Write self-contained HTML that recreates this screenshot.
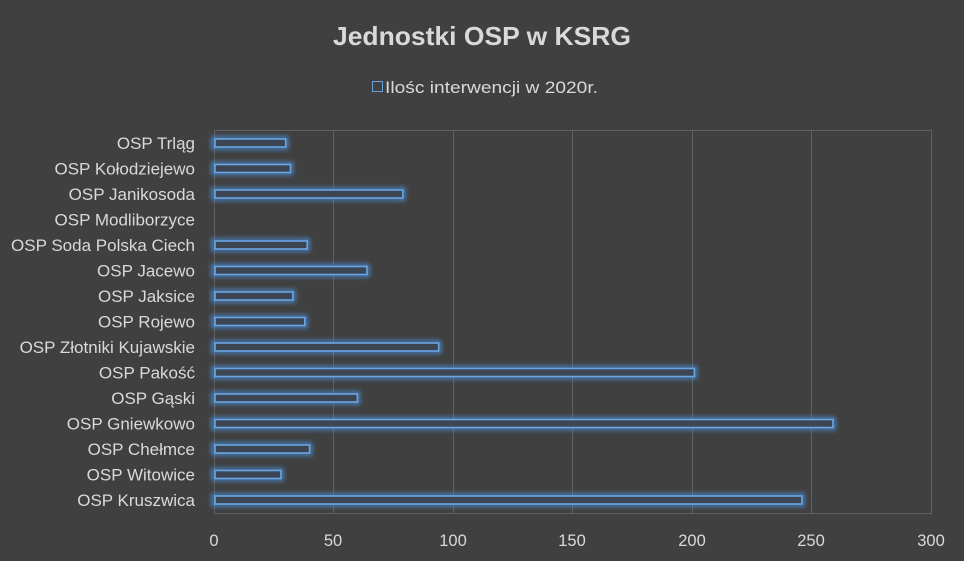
<!DOCTYPE html>
<html><head><meta charset="utf-8"><style>
html,body{margin:0;padding:0;background:#404040;}
svg{display:block;font-family:"Liberation Sans",sans-serif;}
</style></head><body>
<svg width="964" height="561" viewBox="0 0 964 561">
<defs><filter id="g" x="-10%" y="-100%" width="120%" height="300%"><feGaussianBlur stdDeviation="2.5"/></filter></defs>
<rect width="964" height="561" fill="#404040"/>
<text x="482" y="45" text-anchor="middle" font-size="26" font-weight="bold" fill="#d9d9d9" textLength="298" lengthAdjust="spacingAndGlyphs">Jednostki OSP w KSRG</text>
<rect x="372.5" y="81.5" width="10" height="10" fill="none" stroke="#6a9fd8" stroke-width="1"/>
<text x="385" y="93" font-size="17" fill="#d9d9d9" textLength="213" lengthAdjust="spacingAndGlyphs">Ilośc interwencji w 2020r.</text>
<g stroke="#606060" stroke-width="1">
<line x1="333.5" y1="130" x2="333.5" y2="514"/><line x1="453.5" y1="130" x2="453.5" y2="514"/>
<line x1="572.5" y1="130" x2="572.5" y2="514"/><line x1="692.5" y1="130" x2="692.5" y2="514"/>
<line x1="811.5" y1="130" x2="811.5" y2="514"/><line x1="931.5" y1="130" x2="931.5" y2="514"/>
<line x1="214.5" y1="130" x2="214.5" y2="514"/><line x1="214" y1="130.5" x2="931" y2="130.5"/>
<line x1="214" y1="513.5" x2="931" y2="513.5"/>
</g>
<g font-size="16.5" fill="#d9d9d9" text-anchor="middle">
<text x="214" y="546">0</text><text x="333" y="546">50</text><text x="453" y="546">100</text>
<text x="572" y="546">150</text><text x="692" y="546">200</text><text x="811" y="546">250</text><text x="931" y="546">300</text>
</g>
<g id="bars"></g>
<g id="labels" font-size="17" fill="#d9d9d9" text-anchor="end"></g>
<script>
var d=[["OSP Trląg",30],["OSP Kołodziejewo",32],["OSP Janikosoda",79],["OSP Modliborzyce",0],["OSP Soda Polska Ciech",39],["OSP Jacewo ",64],["OSP Jaksice",33],["OSP Rojewo",38],["OSP Złotniki Kujawskie",94],["OSP Pakość",201],["OSP Gąski",60],["OSP Gniewkowo",259],["OSP Chełmce",40],["OSP Witowice",28],["OSP Kruszwica",246]];
var ns="http://www.w3.org/2000/svg",B=document.getElementById("bars"),L=document.getElementById("labels");
d.forEach(function(r,i){var c=143+i*25.5;
var t=document.createElementNS(ns,"text");t.setAttribute("x",195);t.setAttribute("y",c+6);t.textContent=r[0];L.appendChild(t);
if(r[1]>0){var w=r[1]*2.39;
var gl=document.createElementNS(ns,"rect");gl.setAttribute("x",213);gl.setAttribute("y",c-5);gl.setAttribute("width",w+2);gl.setAttribute("height",10);gl.setAttribute("fill","none");gl.setAttribute("stroke","#4a8fd8");gl.setAttribute("stroke-width","3");gl.setAttribute("filter","url(#g)");B.appendChild(gl);
var b=document.createElementNS(ns,"rect");b.setAttribute("x",215);b.setAttribute("y",c-4);b.setAttribute("width",w-1);b.setAttribute("height",8);b.setAttribute("fill","#3c4653");b.setAttribute("stroke","#6aa6e6");b.setAttribute("stroke-width","1.6");B.appendChild(b);}
});
</script>
</svg>
</body></html>
